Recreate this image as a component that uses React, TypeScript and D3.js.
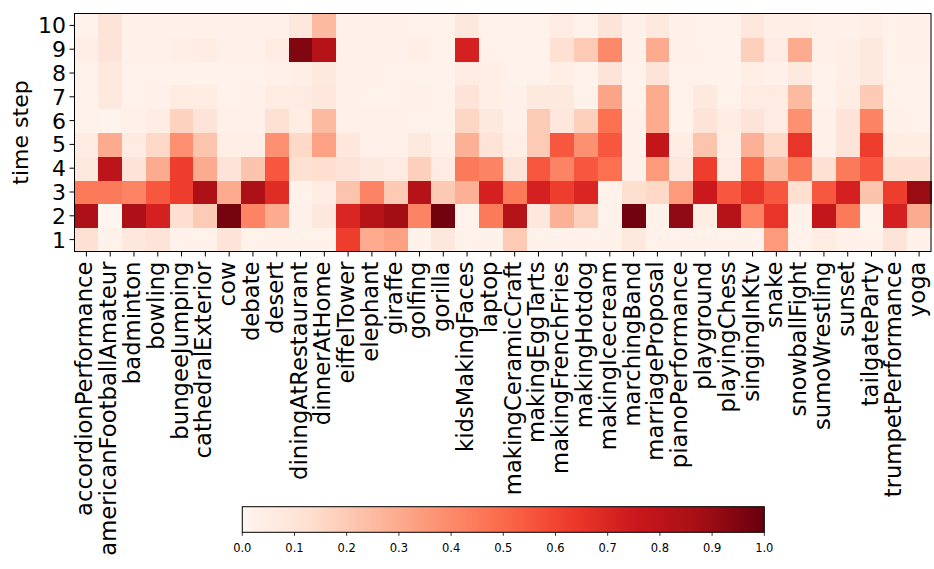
import React from "react";
import * as d3 from "d3";

const categories = [
  "accordionPerformance", "americanFootballAmateur", "badminton", "bowling", "bungeeJumping",
  "cathedralExterior", "cow", "debate", "desert", "diningAtRestaurant", "dinnerAtHome",
  "eiffelTower", "elephant", "giraffe", "golfing", "gorilla", "kidsMakingFaces", "laptop",
  "makingCeramicCraft", "makingEggTarts", "makingFrenchFries", "makingHotdog", "makingIcecream",
  "marchingBand", "marriageProposal", "pianoPerformance", "playground", "playingChess",
  "singingInKtv", "snake", "snowballFight", "sumoWrestling", "sunset", "tailgateParty",
  "trumpetPerformance", "yoga",
];

const timeSteps = [1, 2, 3, 4, 5, 6, 7, 8, 9, 10];

// one row per category, values for time step 1..10
const values: number[][] = [
  [0.12, 0.85, 0.45, 0.07, 0.06, 0.02, 0.02, 0.02, 0.04, 0.02],
  [0.02, 0.0, 0.45, 0.8, 0.3, 0.01, 0.07, 0.07, 0.1, 0.1],
  [0.08, 0.85, 0.42, 0.1, 0.06, 0.03, 0.02, 0.02, 0.03, 0.03],
  [0.1, 0.72, 0.55, 0.3, 0.15, 0.05, 0.03, 0.02, 0.03, 0.03],
  [0.02, 0.13, 0.62, 0.62, 0.38, 0.17, 0.06, 0.02, 0.04, 0.03],
  [0.02, 0.2, 0.85, 0.3, 0.22, 0.1, 0.05, 0.02, 0.05, 0.03],
  [0.1, 0.97, 0.3, 0.1, 0.04, 0.03, 0.02, 0.02, 0.03, 0.03],
  [0.02, 0.42, 0.85, 0.22, 0.04, 0.03, 0.03, 0.02, 0.03, 0.03],
  [0.02, 0.3, 0.68, 0.55, 0.38, 0.12, 0.05, 0.03, 0.05, 0.03],
  [0.02, 0.03, 0.02, 0.12, 0.15, 0.05, 0.06, 0.04, 0.95, 0.08],
  [0.02, 0.08, 0.05, 0.13, 0.33, 0.25, 0.08, 0.07, 0.82, 0.25],
  [0.62, 0.7, 0.22, 0.1, 0.08, 0.03, 0.03, 0.03, 0.03, 0.03],
  [0.3, 0.82, 0.42, 0.07, 0.03, 0.03, 0.02, 0.03, 0.03, 0.03],
  [0.33, 0.88, 0.2, 0.06, 0.03, 0.03, 0.02, 0.02, 0.03, 0.03],
  [0.02, 0.42, 0.82, 0.18, 0.07, 0.02, 0.03, 0.02, 0.04, 0.02],
  [0.08, 0.98, 0.2, 0.06, 0.03, 0.02, 0.02, 0.02, 0.02, 0.02],
  [0.02, 0.02, 0.28, 0.45, 0.28, 0.16, 0.1, 0.06, 0.72, 0.08],
  [0.02, 0.45, 0.72, 0.42, 0.1, 0.07, 0.04, 0.04, 0.02, 0.02],
  [0.2, 0.82, 0.45, 0.1, 0.04, 0.03, 0.03, 0.02, 0.02, 0.02],
  [0.02, 0.08, 0.72, 0.55, 0.2, 0.2, 0.07, 0.02, 0.02, 0.02],
  [0.02, 0.28, 0.62, 0.42, 0.55, 0.08, 0.07, 0.04, 0.12, 0.06],
  [0.02, 0.18, 0.7, 0.55, 0.38, 0.18, 0.02, 0.02, 0.2, 0.02],
  [0.02, 0.02, 0.02, 0.48, 0.55, 0.48, 0.32, 0.1, 0.4, 0.1],
  [0.07, 0.98, 0.13, 0.03, 0.03, 0.03, 0.02, 0.02, 0.03, 0.03],
  [0.02, 0.02, 0.15, 0.35, 0.78, 0.3, 0.3, 0.1, 0.3, 0.07],
  [0.02, 0.92, 0.35, 0.08, 0.05, 0.02, 0.02, 0.02, 0.03, 0.03],
  [0.02, 0.05, 0.75, 0.62, 0.22, 0.1, 0.07, 0.02, 0.02, 0.02],
  [0.02, 0.82, 0.55, 0.06, 0.04, 0.05, 0.02, 0.02, 0.02, 0.02],
  [0.02, 0.42, 0.65, 0.5, 0.28, 0.1, 0.06, 0.04, 0.18, 0.08],
  [0.35, 0.65, 0.55, 0.25, 0.15, 0.06, 0.06, 0.03, 0.06, 0.04],
  [0.02, 0.02, 0.13, 0.45, 0.65, 0.38, 0.25, 0.07, 0.3, 0.04],
  [0.05, 0.78, 0.55, 0.12, 0.03, 0.03, 0.02, 0.02, 0.03, 0.03],
  [0.03, 0.45, 0.72, 0.45, 0.1, 0.1, 0.05, 0.04, 0.04, 0.03],
  [0.02, 0.02, 0.22, 0.55, 0.62, 0.42, 0.2, 0.07, 0.07, 0.04],
  [0.1, 0.72, 0.62, 0.13, 0.05, 0.03, 0.02, 0.02, 0.02, 0.02],
  [0.02, 0.3, 0.9, 0.13, 0.05, 0.02, 0.02, 0.02, 0.03, 0.03],
];

const colorbarTicks = [0, 0.1, 0.2, 0.3, 0.4, 0.5, 0.6, 0.7, 0.8, 0.9, 1.0];
const redsStops = ["#fff5f0", "#fee0d2", "#fcbba1", "#fc9272", "#fb6a4a", "#ef3b2c", "#cb181d", "#a50f15", "#67000d"];

const W = 934;
const H = 569;
const FONT = "DejaVu Sans, sans-serif";
const plot = { left: 74.5, right: 931, top: 13.5, bottom: 251.5 };
const cbar = { left: 242.3, right: 764.3, top: 506.7, bottom: 532.3 };

export default function App() {
  const x = d3.scaleBand<string>().domain(categories).range([plot.left, plot.right]).padding(0);
  const y = d3.scaleBand<number>().domain(timeSteps.slice().reverse()).range([plot.top, plot.bottom]).padding(0);
  const color = d3
    .scaleLinear<string>()
    .domain(redsStops.map((_, i) => i / (redsStops.length - 1)))
    .range(redsStops)
    .interpolate(d3.interpolateRgb)
    .clamp(true);
  const cx = d3.scaleLinear().domain([0, 1]).range([cbar.left, cbar.right]);
  const gradStops = d3.range(0, 1.0001, 0.02);

  return (
    <svg width={W} height={H} style={{ position: "absolute", left: 0, top: 0, background: "#fff" }} fontFamily={FONT}>
      <defs>
        <linearGradient id="redsGrad" x1="0" x2="1" y1="0" y2="0">
          {gradStops.map((t) => (
            <stop key={t} offset={t} stopColor={color(t)} />
          ))}
        </linearGradient>
      </defs>
      {/* cells */}
      <g shapeRendering="crispEdges">
        {categories.map((c, ci) =>
          timeSteps.map((s, si) => (
            <rect
              key={c + s}
              x={x(c)}
              y={y(s)}
              width={x.bandwidth() + 0.5}
              height={y.bandwidth() + 0.5}
              fill={color(values[ci][si])}
            />
          ))
        )}
      </g>
      {/* frame */}
      <rect
        x={plot.left}
        y={plot.top}
        width={plot.right - plot.left}
        height={plot.bottom - plot.top}
        fill="none"
        stroke="#000"
        strokeWidth={1}
      />
      {/* x ticks */}
      {categories.map((c) => {
        const px = (x(c) as number) + x.bandwidth() / 2;
        return (
          <g key={c}>
            <line x1={px} x2={px} y1={plot.bottom} y2={plot.bottom + 5} stroke="#000" strokeWidth={1} />
            <text
              transform={`translate(${px + 6},${plot.bottom + 10}) rotate(-90)`}
              textAnchor="end"
              fontSize={22.7}
              fill="#000"
            >
              {c}
            </text>
          </g>
        );
      })}
      {/* y ticks */}
      {timeSteps.map((s) => {
        const py = (y(s) as number) + y.bandwidth() / 2;
        return (
          <g key={s}>
            <line x1={plot.left - 5} x2={plot.left} y1={py} y2={py} stroke="#000" strokeWidth={1} />
            <text x={plot.left - 8.5} y={py} dy="0.36em" textAnchor="end" fontSize={22} fill="#000">
              {s}
            </text>
          </g>
        );
      })}
      <text transform={`translate(28,${(plot.top + plot.bottom) / 2}) rotate(-90)`} textAnchor="middle" fontSize={22} fill="#000">
        time step
      </text>
      {/* colorbar */}
      <rect
        x={cbar.left}
        y={cbar.top}
        width={cbar.right - cbar.left}
        height={cbar.bottom - cbar.top}
        fill="url(#redsGrad)"
        stroke="#000"
        strokeWidth={1}
      />
      {colorbarTicks.map((t) => (
        <g key={t}>
          <line x1={cx(t)} x2={cx(t)} y1={cbar.bottom} y2={cbar.bottom + 3.5} stroke="#000" strokeWidth={0.8} />
          <text x={cx(t)} y={cbar.bottom + 15.5} dy="0.36em" textAnchor="middle" fontSize={11.5} fill="#000">
            {t.toFixed(1)}
          </text>
        </g>
      ))}
    </svg>
  );
}
